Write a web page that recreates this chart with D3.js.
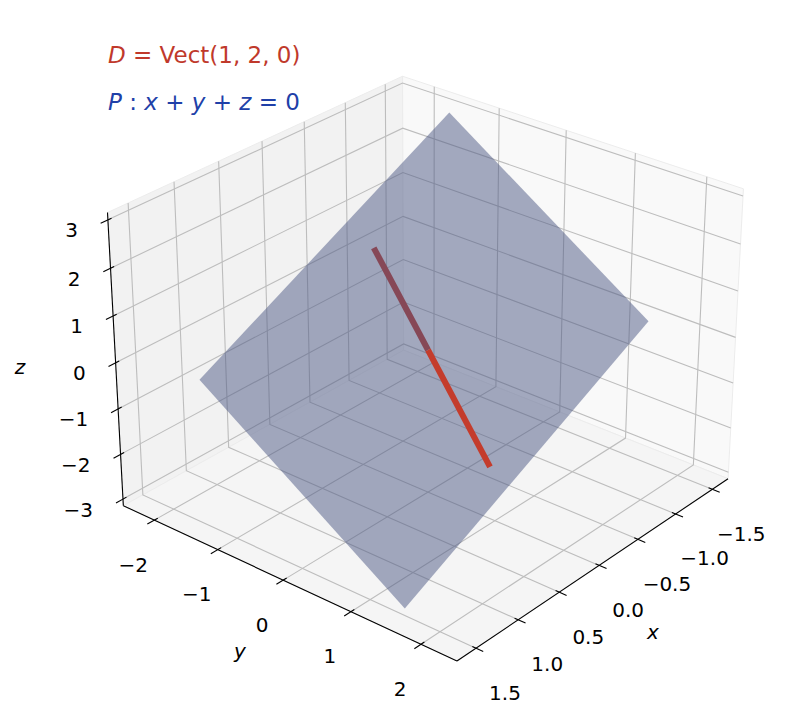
<!DOCTYPE html>
<html><head><meta charset="utf-8">
<script src="https://cdn.jsdelivr.net/npm/d3@7"></script>
<style>body{margin:0;background:#fff}svg{font-family:"DejaVu Sans",sans-serif}</style>
</head><body><svg id="c" width="787" height="723"></svg>
<script>
// data
const xTicks=[-1.5,-1.0,-0.5,0.0,0.5,1.0,1.5];
const yTicks=[-2,-1,0,1,2];
const zTicks=[-3,-2,-1,0,1,2,3];
const xLim=[-1.72,1.72], yLim=[-2.5,2.5], zLim=[-3.15,3.15];
const planeX=[-1.5,1.5], planeY=[-1.5,1.5];   // plane x+y+z=0
const lineDir=[1,2,0], lineT=[-1.1,1.1];       // D = Vect(1,2,0)

// camera
const azim=40*Math.PI/180, elev=28*Math.PI/180, dist=14, S=220, CX=428, CY=350;
const nx=d3.scaleLinear().domain(xLim).range([-1,1]);
const ny=d3.scaleLinear().domain(yLim).range([-1,1]);
const nz=d3.scaleLinear().domain(zLim).range([-0.75,0.75]);
const sa=Math.sin(azim),ca=Math.cos(azim),se=Math.sin(elev),ce=Math.cos(elev);
function P(x,y,z){const X=nx(x),Y=ny(y),Z=nz(z);
 const u=-sa*X+ca*Y, v=-se*ca*X-se*sa*Y+ce*Z, w=ce*ca*X+ce*sa*Y+se*Z;
 const f=dist/(dist-w); return [CX+S*u*f, CY-S*v*f];}
const svg=d3.select("#c");
const line=d3.line();
const [x0,x1]=xLim,[y0,y1]=yLim,[z0,z1]=zLim;
// panes
svg.append("path").attr("d",line([P(x1,y0,z0),P(x0,y0,z0),P(x0,y0,z1),P(x1,y0,z1)])+"Z").attr("fill","#f2f2f2").attr("stroke","#ececec");
svg.append("path").attr("d",line([P(x0,y0,z0),P(x0,y1,z0),P(x0,y1,z1),P(x0,y0,z1)])+"Z").attr("fill","#f9f9f9").attr("stroke","#ececec");
svg.append("path").attr("d",line([P(x0,y0,z0),P(x1,y0,z0),P(x1,y1,z0),P(x0,y1,z0)])+"Z").attr("fill","#f5f5f5").attr("stroke","#ececec");
const g=svg.append("g").attr("stroke","#bdbdbd").attr("stroke-width",1.1).attr("fill","none");
xTicks.forEach(t=>{g.append("path").attr("d",line([P(t,y1,z0),P(t,y0,z0),P(t,y0,z1)]));});
yTicks.forEach(t=>{g.append("path").attr("d",line([P(x1,t,z0),P(x0,t,z0),P(x0,t,z1)]));});
zTicks.forEach(t=>{g.append("path").attr("d",line([P(x1,y0,t),P(x0,y0,t),P(x0,y1,t)]));});
// axis lines
const ax=svg.append("g").attr("stroke","#000").attr("stroke-width",1.1).attr("fill","none");
ax.append("path").attr("d",line([P(x1,y1,z0),P(x0,y1,z0)]));
ax.append("path").attr("d",line([P(x1,y0,z0),P(x1,y1,z0)]));
ax.append("path").attr("d",line([P(x1,y0,z0),P(x1,y0,z1)]));
function tick(a,b,out,inn){const dx=b[0]-a[0],dy=b[1]-a[1],L=Math.hypot(dx,dy);
 return line([[a[0]-dx/L*inn,a[1]-dy/L*inn],[a[0]+dx/L*out,a[1]+dy/L*out]]);}
const T=svg.append("g").attr("font-size",20).attr("fill","#000");
xTicks.forEach(t=>{const a=P(t,y1,z0),b=P(t,y1+0.5,z0);ax.append("path").attr("d",tick(a,b,8,4));
 T.append("text").attr("x",a[0]+29).attr("y",a[1]+46).attr("text-anchor","middle").attr("dominant-baseline","middle").text(d3.format(".1f")(t).replace("-","−"));});
yTicks.forEach(t=>{const a=P(x1,t,z0),b=P(x1+0.5,t,z0);ax.append("path").attr("d",tick(a,b,8,4));
 T.append("text").attr("x",a[0]-21).attr("y",a[1]+46).attr("text-anchor","middle").attr("dominant-baseline","middle").text(String(t).replace("-","−"));});
zTicks.forEach(t=>{const a=P(x1,y0,t),b=P(x1+0.5,y0,t);ax.append("path").attr("d",tick(a,b,8,4));
 T.append("text").attr("x",a[0]-30).attr("y",a[1]+12).attr("text-anchor","end").attr("dominant-baseline","middle").text(String(t).replace("-","−"));});
T.append("text").attr("x",653).attr("y",633).attr("font-style","italic").attr("text-anchor","middle").attr("dominant-baseline","middle").text("x");
T.append("text").attr("x",240).attr("y",652).attr("font-style","italic").attr("text-anchor","middle").attr("dominant-baseline","middle").text("y");
T.append("text").attr("x",20).attr("y",368).attr("font-style","italic").attr("text-anchor","middle").attr("dominant-baseline","middle").text("z");
// line back half, plane, front half
const Lp=t=>P(lineDir[0]*t,lineDir[1]*t,lineDir[2]*t);
svg.append("path").attr("d",line([Lp(lineT[0]),Lp(0)])).attr("stroke","#c0392b").attr("stroke-width",6).attr("fill","none");
const pc=[[planeX[0],planeY[0]],[planeX[1],planeY[0]],[planeX[1],planeY[1]],[planeX[0],planeY[1]]].map(([x,y])=>P(x,y,-x-y));
svg.append("path").attr("d",line(pc)+"Z").attr("fill","rgb(75,87,131)").attr("fill-opacity",0.5);
svg.append("path").attr("d",line([Lp(0),Lp(lineT[1])])).attr("stroke","#c43c2c").attr("stroke-width",6).attr("fill","none");
// titles
const t1=svg.append("text").attr("x",108).attr("y",63).attr("font-size",23).attr("fill","#c0392b").attr("style","white-space:pre");
t1.append("tspan").attr("font-style","italic").text("D");t1.append("tspan").text(" = Vect(1, 2, 0)");
const t2=svg.append("text").attr("x",108).attr("y",110).attr("font-size",23).attr("fill","#2040a8").attr("style","white-space:pre");
t2.append("tspan").attr("font-style","italic").text("P");t2.append("tspan").text(" : ");
t2.append("tspan").attr("font-style","italic").text("x");t2.append("tspan").text(" + ");
t2.append("tspan").attr("font-style","italic").text("y");t2.append("tspan").text(" + ");
t2.append("tspan").attr("font-style","italic").text("z");t2.append("tspan").text(" = 0");
</script></body></html>
